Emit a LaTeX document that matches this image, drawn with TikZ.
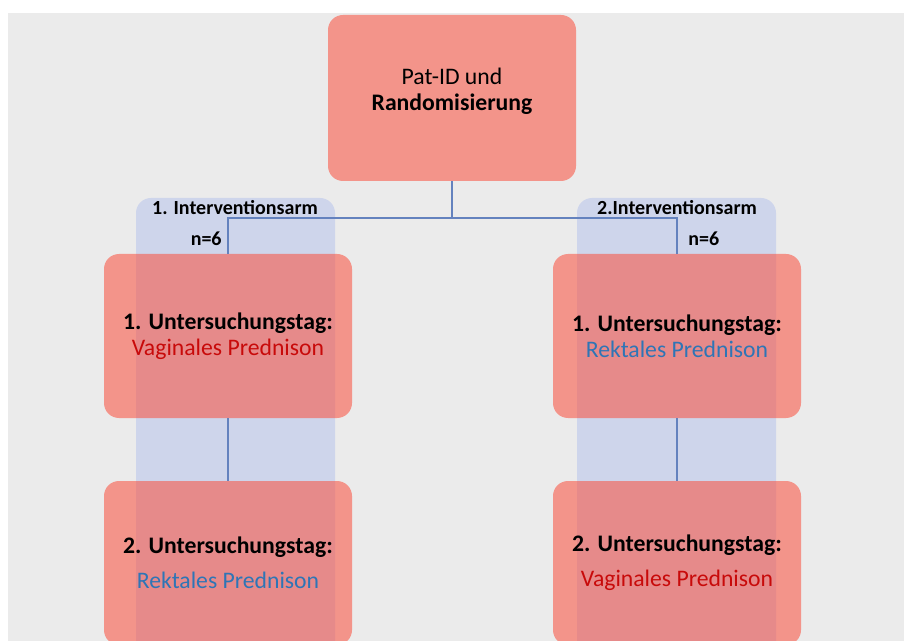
\documentclass[tikz,border=0pt]{standalone}
\usepackage{fontspec}
\setmainfont{Carlito}
\definecolor{bggray}{RGB}{235,235,235}
\definecolor{boxred}{RGB}{251,77,59}
\definecolor{armblue}{RGB}{206,213,235}
\definecolor{linkblue}{RGB}{100,130,190}
\definecolor{textred}{RGB}{200,10,10}
\definecolor{textblue}{RGB}{46,117,182}
\begin{document}
\begin{tikzpicture}[x=0.5pt, y=-0.5pt,
    redbox/.style={fill=boxred, fill opacity=0.55, text opacity=1, rounded corners=7.5pt,
        minimum width=124pt, minimum height=82pt, align=center, inner sep=0pt,
        font=\fontsize{11.85pt}{13pt}\selectfont},
    armbox/.style={fill=armblue, rounded corners=7.5pt, minimum width=99.5pt,
        minimum height=231pt, inner sep=0pt},
    armlabel/.style={inner sep=0pt, font=\bfseries\fontsize{10pt}{12pt}\selectfont},
    link/.style={draw=linkblue, line width=0.6pt}]
    \useasboundingbox (0,0) rectangle (904,641);
    \clip (0,0) rectangle (904,641);

    % Background
    \fill [white] (0,0) rectangle (904,641);
    \fill [bggray] (8,13) rectangle (904,641);

    % Arms
    \node [armbox] (arm1) at (235.5,429) {};
    \node [armbox] (arm2) at (676.5,429) {};
    \node [armlabel] (arm1lbl) at (235,208) {1. Interventionsarm};
    \node [armlabel] (arm2lbl) at (677,208) {2.Interventionsarm};
    \node [armlabel, anchor=east] (n1) at (222,239) {n=6};
    \node [armlabel, anchor=west] (n2) at (688,239) {n=6};

    % Boxes
    \node [redbox, minimum height=83pt] (rand) at (452,98) {};
    \node [align=center, inner sep=0pt, font=\fontsize{11.85pt}{13pt}\selectfont]
        (randtxt) at (452,91) {Pat-ID und\\\textbf{Randomisierung}};
    \node [redbox] (day1a) at (228,336)
        {\textbf{1. Untersuchungstag:}\\\textcolor{textred}{Vaginales Prednison}};
    \node [redbox] (day1b) at (677,336)
        {\textbf{1. Untersuchungstag:}\\\textcolor{textblue}{Rektales Prednison}};
    \node [redbox] (day2a) at (228,563)
        {\textbf{2. Untersuchungstag:}\\[4.5pt]\textcolor{textblue}{Rektales Prednison}};
    \node [redbox] (day2b) at (677,563)
        {\textbf{2. Untersuchungstag:}\\[4.5pt]\textcolor{textred}{Vaginales Prednison}};

    % Links
    \coordinate (split) at (452,218);
    \draw [link] (rand.south) -- (split) -| (day1a.north);
    \draw [link] (split) -| (day1b.north);
    \draw [link] (day1a.south) -- (day2a.north);
    \draw [link] (day1b.south) -- (day2b.north);
\end{tikzpicture}
\end{document}
